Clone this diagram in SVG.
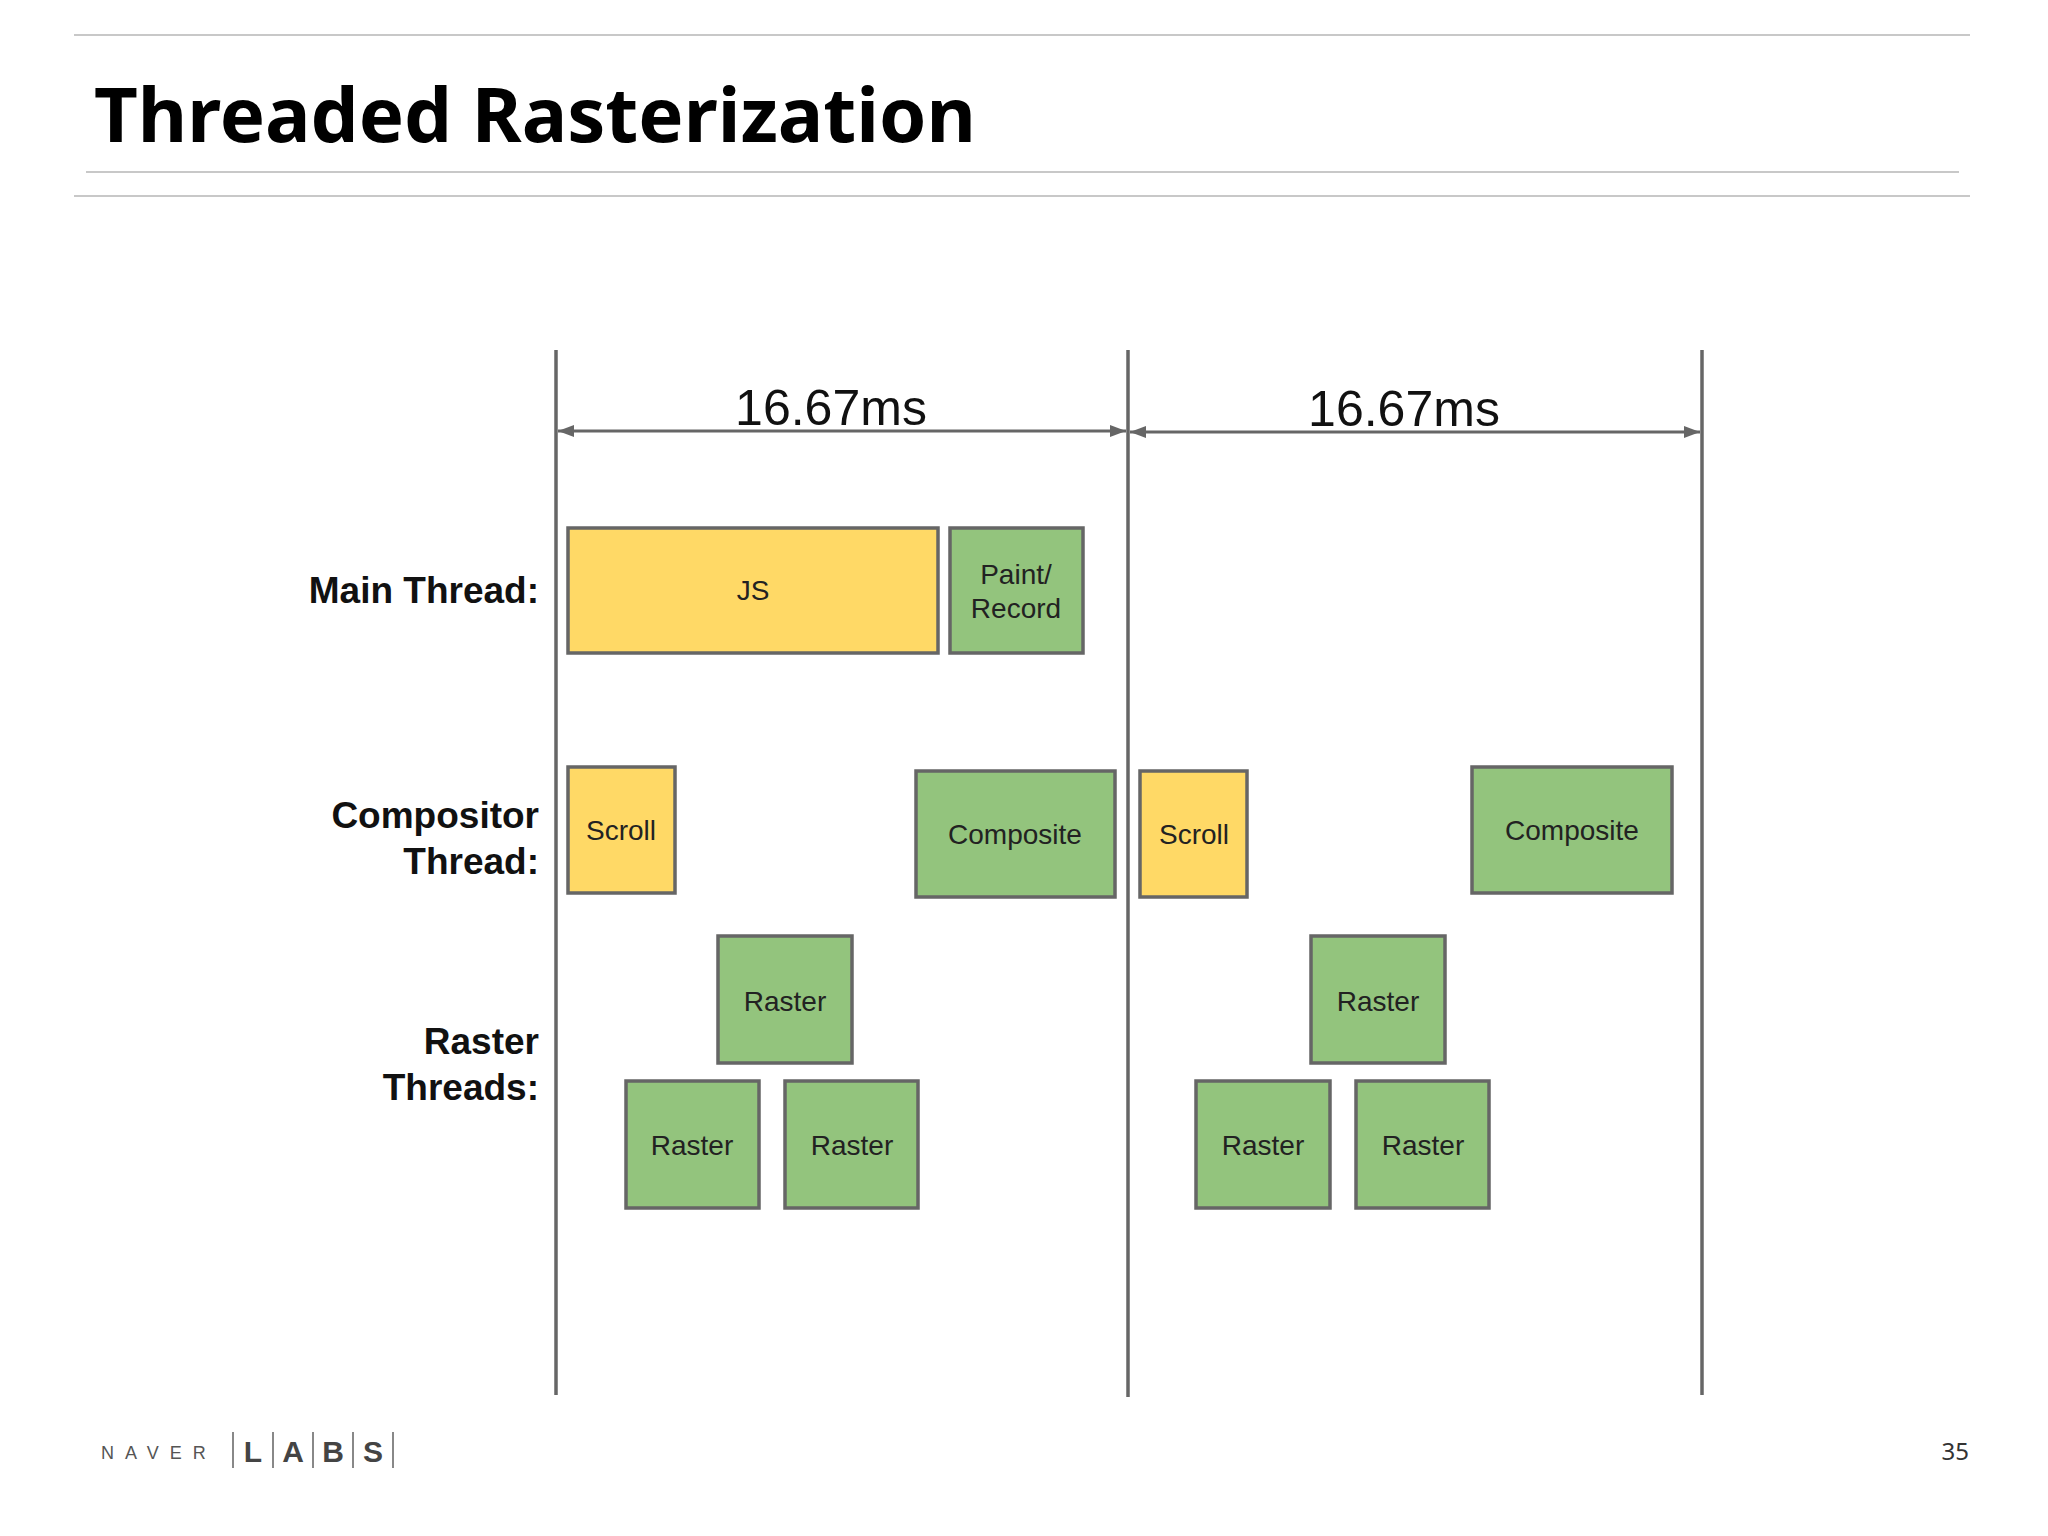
<svg xmlns="http://www.w3.org/2000/svg" width="2048" height="1536" viewBox="0 0 2048 1536">
<defs>
<style>
.rule{stroke:#c8c8c8;stroke-width:2}
.v{stroke:#666;stroke-width:3.5}
.box{stroke:#666;stroke-width:3.5}
.y{fill:#ffd966}.g{fill:#93c47d}
.bt{font-family:"Liberation Sans",Arial,sans-serif;font-size:28px;fill:#222;text-anchor:middle}
.lbl{font-family:"Liberation Sans",Arial,sans-serif;font-size:37px;font-weight:bold;fill:#111;text-anchor:end}
.ms{font-family:"Liberation Sans",Arial,sans-serif;font-size:50px;fill:#111;text-anchor:middle}
</style>
<marker id="ah" viewBox="0 0 10 10" refX="10" refY="5" markerWidth="16" markerHeight="12" orient="auto-start-reverse" markerUnits="userSpaceOnUse" preserveAspectRatio="none"><path d="M0,0 L10,5 L0,10 z" fill="#666"/></marker>
</defs>
<rect width="2048" height="1536" fill="#fff"/>
<line class="rule" x1="74" y1="35" x2="1970" y2="35"/>
<line class="rule" x1="86" y1="172" x2="1959" y2="172"/>
<line class="rule" x1="74" y1="196" x2="1970" y2="196"/>
<text x="94" y="142" font-family="'Noto Sans','Open Sans',sans-serif" font-weight="bold" font-size="76" fill="#000">Threaded Rasterization</text>
<g id="connectors">
<line class="v" x1="556" y1="350" x2="556" y2="1395"/>
<line class="v" x1="1128" y1="350" x2="1128" y2="1397"/>
<line class="v" x1="1702" y1="350" x2="1702" y2="1395"/>
<line x1="558" y1="431" x2="1126" y2="431" stroke="#666" stroke-width="3" marker-start="url(#ah)" marker-end="url(#ah)"/>
<line x1="1130" y1="432" x2="1700" y2="432" stroke="#666" stroke-width="3" marker-start="url(#ah)" marker-end="url(#ah)"/>
</g>
<text class="ms" x="831" y="425">16.67ms</text>
<text class="ms" x="1404" y="426">16.67ms</text>
<text class="lbl" x="539" y="603">Main Thread:</text>
<text class="lbl" x="539" y="828">Compositor</text>
<text class="lbl" x="539" y="874">Thread:</text>
<text class="lbl" x="539" y="1054">Raster</text>
<text class="lbl" x="539" y="1100">Threads:</text>
<g id="js"><rect class="box y" x="568" y="528" width="370" height="125"/><text class="bt" x="753" y="600">JS</text></g>
<g id="paint"><rect class="box g" x="950" y="528" width="133" height="125"/><text class="bt" x="1016" y="584">Paint/</text><text class="bt" x="1016" y="618">Record</text></g>
<g id="scroll1"><rect class="box y" x="568" y="767" width="107" height="126"/><text class="bt" x="621" y="840">Scroll</text></g>
<g id="composite1"><rect class="box g" x="916" y="771" width="199" height="126"/><text class="bt" x="1015" y="844">Composite</text></g>
<g id="scroll2"><rect class="box y" x="1140" y="771" width="107" height="126"/><text class="bt" x="1194" y="844">Scroll</text></g>
<g id="composite2"><rect class="box g" x="1472" y="767" width="200" height="126"/><text class="bt" x="1572" y="840">Composite</text></g>
<g id="raster1"><rect class="box g" x="718" y="936" width="134" height="127"/><text class="bt" x="785" y="1011">Raster</text></g>
<g id="raster2"><rect class="box g" x="626" y="1081" width="133" height="127"/><text class="bt" x="692" y="1155">Raster</text></g>
<g id="raster3"><rect class="box g" x="785" y="1081" width="133" height="127"/><text class="bt" x="852" y="1155">Raster</text></g>
<g id="raster4"><rect class="box g" x="1311" y="936" width="134" height="127"/><text class="bt" x="1378" y="1011">Raster</text></g>
<g id="raster5"><rect class="box g" x="1196" y="1081" width="134" height="127"/><text class="bt" x="1263" y="1155">Raster</text></g>
<g id="raster6"><rect class="box g" x="1356" y="1081" width="133" height="127"/><text class="bt" x="1423" y="1155">Raster</text></g>
<g id="logo" font-family="'Liberation Sans',Arial,sans-serif">
<text x="101" y="1459" font-size="18" fill="#555" letter-spacing="11">NAVER</text>
<g stroke="#888" stroke-width="2"><line x1="233" y1="1432" x2="233" y2="1468"/><line x1="273" y1="1432" x2="273" y2="1468"/><line x1="313" y1="1432" x2="313" y2="1468"/><line x1="353" y1="1432" x2="353" y2="1468"/><line x1="393" y1="1432" x2="393" y2="1468"/></g>
<g font-size="30" font-weight="bold" fill="#444" text-anchor="middle"><text x="253" y="1462">L</text><text x="293" y="1462">A</text><text x="333" y="1462">B</text><text x="373" y="1462">S</text></g>
</g>
<text x="1969" y="1460" font-family="'Noto Sans',sans-serif" font-size="24" fill="#333" text-anchor="end">35</text>
</svg>
